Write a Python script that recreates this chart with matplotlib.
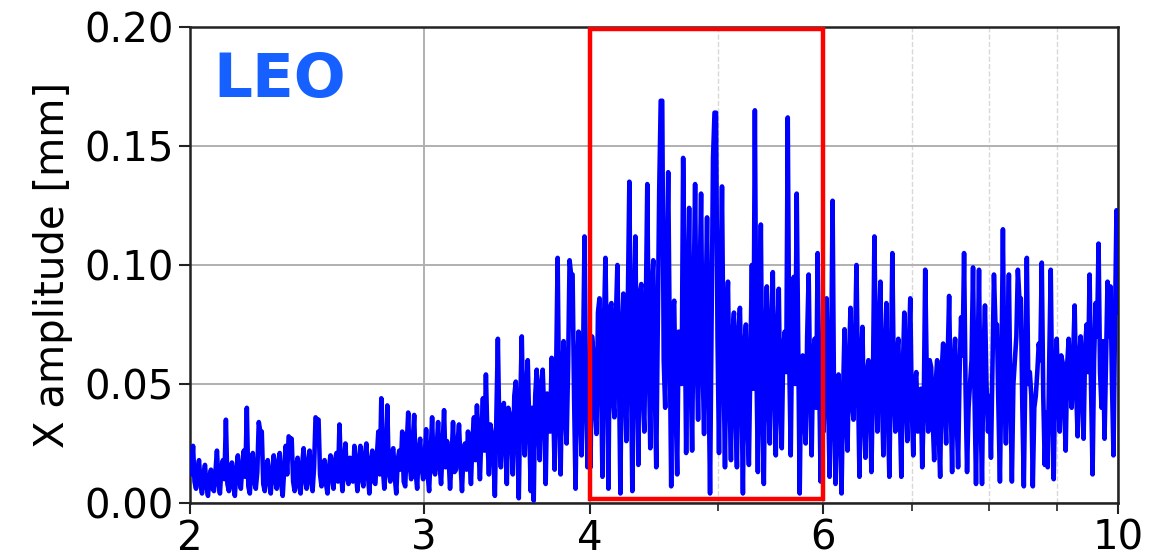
import numpy as np
import matplotlib
matplotlib.use("Agg")
import matplotlib.pyplot as plt
from matplotlib.patches import Rectangle
from matplotlib.ticker import FixedLocator, NullFormatter, FormatStrFormatter

# X amplitude values in units of 0.001 mm, read left to right (log-spaced frequency samples)
amp_2_3 = [20, 12, 24, 9, 6, 14, 18, 8, 4, 12, 16, 7, 3, 11, 14, 6, 5, 13, 22, 9,
           4, 15, 18, 10, 35, 8, 5, 13, 17, 7, 3, 14, 20, 9, 6, 16, 22, 11, 40, 7,
           4, 15, 21, 9, 6, 13, 34, 30, 30, 8, 5, 14, 18, 9, 4, 13, 20, 10, 6, 17,
           21, 8, 3, 14, 24, 12, 28, 27, 27, 9, 5, 15, 19, 7, 4, 16, 23, 10, 6, 17,
           22, 9, 5, 15, 36, 35, 35, 12, 7, 16, 18, 8, 4, 15, 20, 11, 6, 18, 21, 9,
           33, 14, 5, 17, 25, 11, 8, 19, 18, 9, 24, 13, 5, 18, 24, 10, 7, 20, 25, 12,
           4, 17, 22, 9, 8, 19, 30, 12, 44, 15, 6, 20, 41, 13, 9, 21, 23, 11, 4, 18,
           22, 14, 30, 9, 7, 24, 38, 16, 10, 25, 37, 13, 6, 22, 27, 15]
amp_3_4 = [10, 18, 31, 12, 5, 20, 36, 14, 12, 22, 34, 16, 8, 24, 39, 15, 26, 20, 6, 18,
           34, 13, 14, 25, 33, 17, 5, 22, 25, 14, 30, 19, 8, 27, 36, 18, 41, 24, 10, 30,
           44, 22, 54, 28, 12, 33, 29, 20, 3, 35, 69, 30, 15, 38, 42, 25, 8, 40, 37, 28,
           12, 45, 51, 30, 2, 42, 70, 35, 20, 48, 60, 32, 5, 40, 1, 45, 56, 34, 18, 50,
           56, 38, 8, 46, 45, 30, 61, 42, 14, 55, 103, 40, 12, 52, 68, 38, 25, 57, 102, 96,
           96, 45, 6, 55, 72, 40, 20, 60, 112, 48, 15, 58]
amp_4_6 = [15, 70, 62, 40, 29, 80, 86, 55, 11, 75, 103, 60, 6, 82, 84, 45, 36, 78, 100, 58,
           4, 70, 88, 50, 26, 85, 135, 60, 5, 78, 112, 55, 16, 88, 92, 45, 30, 80, 134, 62,
           23, 90, 102, 50, 15, 75, 132, 169, 169, 60, 40, 95, 139, 70, 7, 80, 85, 40, 12, 72,
           70, 50, 145, 90, 21, 75, 124, 55, 22, 85, 134, 65, 35, 90, 130, 60, 29, 80, 120, 55,
           4, 75, 145, 164, 164, 70, 21, 85, 133, 60, 15, 78, 93, 45, 18, 70, 80, 40, 15, 72,
           82, 50, 4, 66, 75, 35, 16, 60, 100, 48, 165, 60, 13, 72, 117, 40, 8, 68, 91, 45,
           25, 75, 97, 50, 20, 70, 90, 40, 23, 65, 72, 55, 162, 60, 20, 78, 95, 50, 130, 65,
           4, 58, 62, 35, 25, 70, 96, 48, 20, 62, 69, 40, 105, 55, 9, 60]
amp_6_10 = [30, 60, 86, 45, 11, 55, 127, 40, 8, 48, 54, 30, 4, 45, 73, 38, 22, 60, 82, 42,
            35, 66, 100, 50, 11, 58, 74, 35, 19, 55, 60, 40, 13, 50, 112, 60, 30, 70, 93, 45,
            20, 62, 84, 38, 11, 55, 105, 50, 30, 62, 69, 40, 11, 55, 80, 45, 26, 65, 86, 40,
            20, 50, 55, 30, 35, 48, 15, 40, 98, 55, 30, 60, 57, 35, 18, 50, 60, 30, 11, 55,
            67, 42, 25, 60, 87, 45, 13, 58, 69, 38, 15, 55, 78, 62, 105, 48, 13, 40, 50, 60,
            99, 45, 8, 55, 98, 40, 8, 62, 83, 50, 30, 45, 19, 58, 96, 75, 75, 40, 9, 55,
            115, 50, 25, 65, 96, 45, 9, 50, 60, 70, 98, 86, 86, 40, 7, 55, 103, 50, 55, 45,
            7, 40, 45, 55, 67, 60, 101, 45, 16, 38, 15, 60, 98, 42, 10, 55, 69, 45, 30, 62,
            59, 40, 22, 58, 69, 50, 40, 62, 83, 48, 28, 60, 70, 45, 27, 65, 75, 55, 96, 48,
            12, 60, 84, 70, 109, 55, 40, 68, 27, 60, 93, 70, 91, 50, 20, 75, 123, 80]

x_ticks = [2, 3, 4, 6, 10]
x_minor = [5, 7, 8, 9]
y_ticks = [0.00, 0.05, 0.10, 0.15, 0.20]
box_freq = (4, 6)
box_amp = (0.0017, 0.199)

amp = np.array(amp_2_3 + amp_3_4 + amp_4_6 + amp_6_10) / 1000.0
freq = np.geomspace(2, 10, len(amp))

fig = plt.figure(figsize=(11.49, 5.6), dpi=100)
ax = fig.add_axes([0.1654, 0.1018, 0.8076, 0.85])

ax.plot(freq, amp, color="#0000ff", lw=3.3, solid_joinstyle="round", zorder=3)

ax.set_xscale("log")
ax.set_xlim(2, 10)
ax.set_ylim(0, 0.20)
ax.xaxis.set_major_locator(FixedLocator(x_ticks))
ax.xaxis.set_minor_locator(FixedLocator(x_minor))
ax.set_xticklabels([str(t) for t in x_ticks])
ax.xaxis.set_minor_formatter(NullFormatter())
ax.set_yticks(y_ticks)
ax.yaxis.set_major_formatter(FormatStrFormatter("%.2f"))

ax.grid(True, which="major", color="#b0b0b0", lw=1.4, zorder=0)
ax.grid(True, which="minor", axis="x", color="#d8d8d8", lw=1.0, ls="--", zorder=0)
ax.set_axisbelow(True)

ax.tick_params(axis="both", which="major", labelsize=29, length=8, width=1.5, color="#222222")
ax.tick_params(axis="x", which="minor", length=6, width=1.2, color="#222222")
for s in ax.spines.values():
    s.set_linewidth(1.8)
    s.set_color("#222222")

ax.set_ylabel("X amplitude [mm]", fontsize=29, labelpad=8)

rect = Rectangle((box_freq[0], box_amp[0]), box_freq[1] - box_freq[0], box_amp[1] - box_amp[0],
                 fill=False, edgecolor="#ff0000", lw=3.2, zorder=5)
ax.add_patch(rect)

ax.text(0.025, 0.853, "LEO", transform=ax.transAxes, fontsize=44, fontweight="bold",
        color="#1660ff", ha="left", va="baseline", zorder=6)

fig.savefig("out.png", dpi=100)
